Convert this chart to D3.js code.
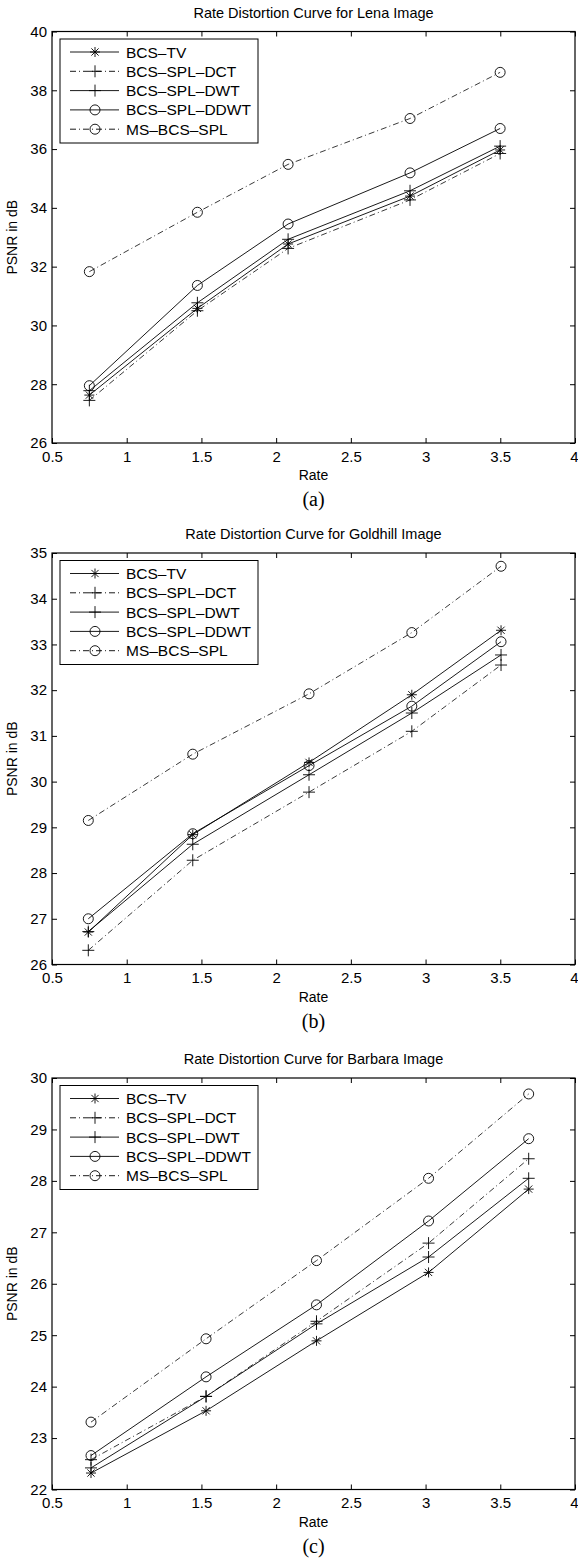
<!DOCTYPE html>
<html>
<head>
<meta charset="utf-8">
<script src="https://cdn.jsdelivr.net/npm/d3@7"></script>
<style>
  body { margin: 0; background: #fff; }
  svg { display: block; }
  text { font-family: "Liberation Sans", Arial, sans-serif; fill: #000; }
  .sub { font-family: "Liberation Serif", "Times New Roman", serif; }
</style>
</head>
<body>
<svg id="chart" width="578" height="1564"></svg>
<script>
// Legend names and line styles
var seriesNames = ['BCS\u2013TV', 'BCS\u2013SPL\u2013DCT', 'BCS\u2013SPL\u2013DWT', 'BCS\u2013SPL\u2013DDWT', 'MS\u2013BCS\u2013SPL'];
var seriesMarkers = ['star', 'plus', 'plus', 'circle', 'circle'];
var seriesDashed = [false, true, false, false, true];

// x ticks shared by the three panels
var xTicks = [0.5, 1, 1.5, 2, 2.5, 3, 3.5, 4];

// (a) Lena
var lenaRate = [0.75, 1.473, 2.08, 2.896, 3.499];
var lenaTV   = [27.63, 30.58, 32.77, 34.40, 35.97];
var lenaDCT  = [27.45, 30.50, 32.62, 34.27, 35.85];
var lenaDWT  = [27.78, 30.77, 32.93, 34.58, 36.10];
var lenaDDWT = [27.95, 31.36, 33.45, 35.19, 36.70];
var lenaMS   = [31.83, 33.85, 35.48, 37.04, 38.61];
var lenaTicks = [26, 28, 30, 32, 34, 36, 38, 40];

// (b) Goldhill
var goldRate = [0.743, 1.442, 2.22, 2.908, 3.505];
var goldTV   = [26.71, 28.84, 30.42, 31.90, 33.31];
var goldDCT  = [26.31, 28.28, 29.77, 31.10, 32.55];
var goldDWT  = [26.72, 28.63, 30.15, 31.50, 32.77];
var goldDDWT = [27.00, 28.86, 30.35, 31.65, 33.06];
var goldMS   = [29.15, 30.60, 31.92, 33.26, 34.71];
var goldTicks = [26, 27, 28, 29, 30, 31, 32, 33, 34, 35];

// (c) Barbara
var barbRate = [0.761, 1.531, 2.27, 3.02, 3.69];
var barbTV   = [22.32, 23.53, 24.89, 26.22, 27.84];
var barbDCT  = [22.58, 23.81, 25.27, 26.79, 28.43];
var barbDWT  = [22.42, 23.81, 25.22, 26.52, 28.05];
var barbDDWT = [22.66, 24.19, 25.59, 27.22, 28.82];
var barbMS   = [23.31, 24.93, 26.45, 28.05, 29.69];
var barbTicks = [22, 23, 24, 25, 26, 27, 28, 29, 30];

var panels = [
  {title: 'Rate Distortion Curve for Lena Image', sub: '(a)', top: 31.5,
   rate: lenaRate, series: [lenaTV, lenaDCT, lenaDWT, lenaDDWT, lenaMS], yTicks: lenaTicks},
  {title: 'Rate Distortion Curve for Goldhill Image', sub: '(b)', top: 553,
   rate: goldRate, series: [goldTV, goldDCT, goldDWT, goldDDWT, goldMS], yTicks: goldTicks},
  {title: 'Rate Distortion Curve for Barbara Image', sub: '(c)', top: 1078,
   rate: barbRate, series: [barbTV, barbDCT, barbDWT, barbDDWT, barbMS], yTicks: barbTicks}
];

var svg = d3.select('#chart');
var left = 52, right = 575, plotH = 411.5;
var dashArr = '6,3,1,3';

// Draw one marker shape at (0,0)
function drawMarker(g, type) {
  if (type === 'circle') {
    g.append('circle').attr('r', 5).attr('fill', 'none').attr('stroke', '#000').attr('stroke-width', 0.9);
  } else {
    var p = 'M-6,0H6M0,-6V6';
    if (type === 'star') p = 'M-5,0H5M0,-5V5M-3.6,-3.6L3.6,3.6M-3.6,3.6L3.6,-3.6';
    g.append('path').attr('d', p).attr('fill', 'none').attr('stroke', '#000').attr('stroke-width', 0.9);
  }
}

panels.forEach(function(p) {

  var x = d3.scaleLinear().domain([0.5, 4]).range([left, right]);
  var y = d3.scaleLinear().domain(d3.extent(p.yTicks)).range([p.top + plotH, p.top]);

  var g = svg.append('g');

  // Title
  g.append('text')
    .attr('x', (left + right) / 2)
    .attr('y', p.top - 14)
    .attr('text-anchor', 'middle')
    .style('font-size', '14.5px')
    .text(p.title);

  // Axes with inward ticks on all sides
  var fmt = function(d) { return String(d); };
  g.append('g').attr('transform', 'translate(0,' + (p.top + plotH) + ')')
    .call(d3.axisBottom(x).tickValues(xTicks).tickFormat(fmt).tickSizeInner(-5).tickSizeOuter(0).tickPadding(8));
  g.append('g').attr('transform', 'translate(0,' + p.top + ')')
    .call(d3.axisTop(x).tickValues(xTicks).tickFormat('').tickSizeInner(-5).tickSizeOuter(0));
  g.append('g').attr('transform', 'translate(' + left + ',0)')
    .call(d3.axisLeft(y).tickValues(p.yTicks).tickFormat(fmt).tickSizeInner(-5).tickSizeOuter(0).tickPadding(5));
  g.append('g').attr('transform', 'translate(' + right + ',0)')
    .call(d3.axisRight(y).tickValues(p.yTicks).tickFormat('').tickSizeInner(-5).tickSizeOuter(0));

  g.selectAll('.domain').remove();
  g.selectAll('.tick line').attr('stroke', '#000').attr('stroke-width', 1);
  g.selectAll('.tick text').style('font-size', '15px').style('font-family', '"Liberation Sans", Arial, sans-serif');
  // last x label sits at the page edge: keep it inside
  g.selectAll('.tick text').filter(function(d) { return d === 4; })
    .attr('text-anchor', 'end').attr('dx', '3px');

  // Box
  g.append('rect')
    .attr('x', left).attr('y', p.top)
    .attr('width', right - left).attr('height', plotH)
    .attr('fill', 'none').attr('stroke', '#000').attr('stroke-width', 1.2);

  // Lines and markers
  var line = d3.line().x(function(d) { return x(d[0]); }).y(function(d) { return y(d[1]); });
  p.series.forEach(function(vals, i) {
    var pts = vals.map(function(v, j) { return [p.rate[j], v]; });
    g.append('path')
      .attr('d', line(pts))
      .attr('fill', 'none')
      .attr('stroke', seriesDashed[i] ? '#222' : '#000')
      .attr('stroke-width', 0.9)
      .attr('stroke-dasharray', seriesDashed[i] ? dashArr : null);
    pts.forEach(function(d) {
      var m = g.append('g').attr('transform', 'translate(' + x(d[0]) + ',' + y(d[1]) + ')');
      drawMarker(m, seriesMarkers[i]);
    });
  });

  // Legend
  var lg = g.append('g').attr('transform', 'translate(' + (left + 8) + ',' + (p.top + 7.5) + ')');
  lg.append('rect').attr('width', 198).attr('height', 104)
    .attr('fill', '#fff').attr('stroke', '#000').attr('stroke-width', 1);
  seriesNames.forEach(function(name, i) {
    var ry = 13 + i * 19.3;
    lg.append('line').attr('x1', 10).attr('x2', 59).attr('y1', ry).attr('y2', ry)
      .attr('stroke', '#000').attr('stroke-width', 0.9)
      .attr('stroke-dasharray', seriesDashed[i] ? dashArr : null);
    drawMarker(lg.append('g').attr('transform', 'translate(35,' + ry + ')'), seriesMarkers[i]);
    lg.append('text').attr('x', 66).attr('y', ry).attr('dy', '0.36em')
      .style('font-size', '15.5px').text(name);
  });

  // Axis labels
  g.append('text')
    .attr('x', (left + right) / 2)
    .attr('y', p.top + plotH + 37)
    .attr('text-anchor', 'middle')
    .style('font-size', '14px')
    .text('Rate');
  g.append('text')
    .attr('transform', 'translate(17,' + (p.top + plotH / 2) + ')rotate(-90)')
    .attr('text-anchor', 'middle')
    .style('font-size', '14px')
    .text('PSNR in dB');
  g.append('text')
    .attr('class', 'sub')
    .attr('x', (left + right) / 2)
    .attr('y', p.top + plotH + 63)
    .attr('text-anchor', 'middle')
    .style('font-size', '20px')
    .text(p.sub);
});
</script>
</body>
</html>
